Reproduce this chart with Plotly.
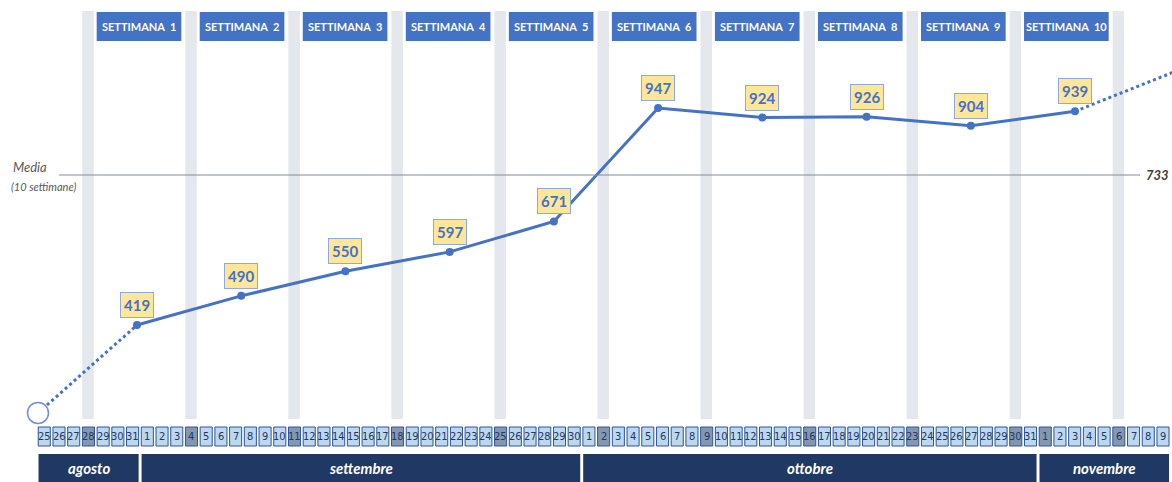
import pandas as pd
import plotly.graph_objects as go

# ---------------- data ----------------
day_dates = pd.date_range("2025-08-25", "2025-11-09", freq="D")
day_labels = [str(d.day) for d in day_dates]
highlight_days = ["2025-08-28", "2025-09-04", "2025-09-11", "2025-09-18", "2025-09-25",
                  "2025-10-02", "2025-10-09", "2025-10-16", "2025-10-23", "2025-10-30",
                  "2025-11-01", "2025-11-06"]
band_days = ["2025-08-28", "2025-09-04", "2025-09-11", "2025-09-18", "2025-09-25",
             "2025-10-02", "2025-10-09", "2025-10-16", "2025-10-23", "2025-10-30",
             "2025-11-06"]
week_labels = ["SETTIMANA  %d" % k for k in range(1, 11)]
week_end_dates = ["2025-08-31", "2025-09-07", "2025-09-14", "2025-09-21", "2025-09-28",
                  "2025-10-05", "2025-10-12", "2025-10-19", "2025-10-26", "2025-11-02"]
week_values = [419, 490, 550, 597, 671, 947, 924, 926, 904, 939]
start_date, start_value = "2025-08-25", 205
forecast_date, forecast_value = "2025-11-09", 1040
months = ["agosto", "settembre", "ottobre", "novembre"]
month_starts = ["2025-08-25", "2025-09-01", "2025-10-01", "2025-11-01"]
month_ends = ["2025-08-31", "2025-09-30", "2025-10-31", "2025-11-09"]
mean_value = 733
mean_title = "Media"
mean_sub = "(10 settimane)"

# ---------------- helpers / style ----------------
BLUE = "#4472C4"
NAVY = "#203864"
FONT = "Lato, 'Open Sans', sans-serif"
NARROW = "'Liberation Sans Narrow', 'DejaVu Sans Condensed', Roboto, sans-serif"
W, H = 1172, 482


def idx(d):
    return (pd.Timestamp(d) - day_dates[0]).days


def py(p):  # pixel row -> paper fraction
    return 1 - p / H


fig = go.Figure()

# line series (end of each week's last day)
wx = [idx(d) + 1 for d in week_end_dates]
sx = idx(start_date) + 0.35
fx = idx(forecast_date) + 1

fig.add_trace(go.Scatter(x=[sx, wx[0]], y=[start_value, week_values[0]], xaxis="x2", yaxis="y",
                         mode="lines", line=dict(color=BLUE, width=3, dash="dot"),
                         hoverinfo="skip", showlegend=False))
fig.add_trace(go.Scatter(x=[wx[-1], fx], y=[week_values[-1], forecast_value], xaxis="x2", yaxis="y",
                         mode="lines", line=dict(color=BLUE, width=3, dash="dot"),
                         hoverinfo="skip", showlegend=False))
fig.add_trace(go.Scatter(x=wx, y=week_values, xaxis="x2", yaxis="y", mode="lines+markers",
                         line=dict(color=BLUE, width=3), marker=dict(size=8, color=BLUE),
                         showlegend=False))
fig.add_trace(go.Scatter(x=[sx], y=[start_value], xaxis="x2", yaxis="y", mode="markers",
                         marker=dict(size=21, color="white", line=dict(color="#7090D0", width=1.5)),
                         showlegend=False, cliponaxis=False))

shapes = []
annotations = []


def ann(**kw):
    kw.setdefault("xanchor", "center")
    kw.setdefault("yanchor", "middle")
    kw.setdefault("showarrow", False)
    annotations.append(kw)


# grey weekly bands
for d in band_days:
    i = idx(d)
    shapes.append(dict(type="rect", xref="x", yref="paper", x0=i + 0.02, x1=i + 0.80,
                       y0=py(419), y1=py(11), fillcolor="#E4E7EC", line=dict(width=0), layer="below"))

# week header boxes
for k, lab in enumerate(week_labels):
    i = idx(band_days[k])
    shapes.append(dict(type="rect", xref="x", yref="paper", x0=i + 1.0, x1=i + 6.75,
                       y0=py(41), y1=py(12), fillcolor=BLUE, line=dict(width=0)))
    ann(xref="x", yref="paper", x=i + 3.875, y=py(26.5), text=lab,
        font=dict(family=FONT, size=11, color="white", weight="bold"))

# day cells
hl = set(idx(d) for d in highlight_days)
for d, lab in zip(day_dates, day_labels):
    i = idx(d)
    shapes.append(dict(type="rect", xref="x", yref="paper", x0=i + 0.03, x1=i + 0.85,
                       y0=py(446), y1=py(427),
                       fillcolor="#8497B0" if i in hl else "#BDD7EE",
                       line=dict(color="#2F5597", width=1)))
    ann(xref="x", yref="paper", x=i + 0.44, y=py(436.5), text=lab,
        font=dict(family=NARROW, size=11, color="#1F3864"))

# month bars
for m, a, b in zip(months, month_starts, month_ends):
    x0 = idx(a) + 0.05
    x1 = idx(b) + 0.85
    shapes.append(dict(type="rect", xref="x", yref="paper", x0=x0, x1=x1,
                       y0=0, y1=py(454), fillcolor=NAVY, line=dict(width=0)))
    ann(xref="x", yref="paper", x=(x0 + x1) / 2, y=py(468), text="<i>" + m + "</i>",
        font=dict(family=FONT, size=15, color="white", weight="bold"))

# mean line
shapes.append(dict(type="line", xref="paper", yref="y2", x0=59 / W, x1=1140 / W,
                   y0=mean_value, y1=mean_value, line=dict(color="#7F8C9E", width=1)))
ann(xref="paper", yref="y2", x=11 / W, y=mean_value, yshift=-2, xanchor="left",
    yanchor="bottom", text="<i>" + mean_title + "</i>",
    font=dict(family=FONT, size=13, color="#595959"))
ann(xref="paper", yref="y2", x=9 / W, y=mean_value, yshift=-3, xanchor="left",
    yanchor="top", text="<i>" + mean_sub + "</i>",
    font=dict(family=FONT, size=11, color="#595959"))
ann(xref="paper", yref="y2", x=1171 / W, y=mean_value, xanchor="right",
    text="<b><i>%d</i></b>" % mean_value,
    font=dict(family=FONT, size=13, color="#404040"))

# value labels
for x, v in zip(wx, week_values):
    ann(xref="x2", yref="y", x=x, y=v, yshift=20, text="<b>%d</b>" % v,
        bgcolor="#FFE699", bordercolor="#8EA9DB", borderwidth=1, borderpad=3,
        font=dict(family=FONT, size=15, color=BLUE))

cw = 14.72
cx0 = 37.8
lb, lx0 = 14.889, 32.78
fig.update_layout(
    width=W, height=H, margin=dict(l=0, r=0, t=0, b=0),
    paper_bgcolor="white", plot_bgcolor="white",
    xaxis=dict(range=[-cx0 / cw, (W - cx0) / cw], visible=False, fixedrange=True),
    xaxis2=dict(range=[-lx0 / lb, (W - lx0) / lb], overlaying="x", visible=False),
    yaxis=dict(range=[37, 1210], visible=False),
    yaxis2=dict(range=[mean_value - (H - 175), mean_value + 175], overlaying="y", visible=False),
    shapes=shapes, annotations=annotations, showlegend=False,
    font=dict(family=FONT),
)
fig.write_html("out.html", config={"displayModeBar": False},
               post_script="document.body.style.margin='0';document.body.style.overflow='hidden';")
